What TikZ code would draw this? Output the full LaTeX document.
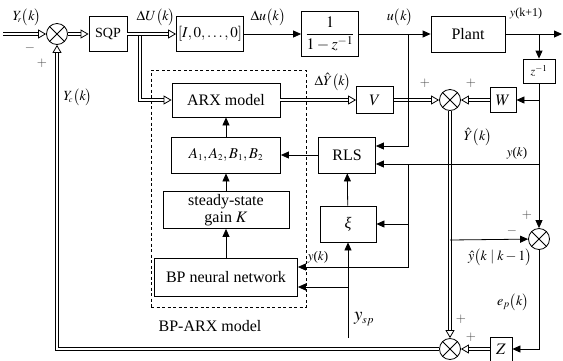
\documentclass[tikz,border=0pt]{standalone}
\usepackage{mathptmx}
\usepackage{fontspec}
\setmainfont{Liberation Serif}
\usetikzlibrary{arrows.meta,calc}
\tikzset{
  blk/.style={draw, line width=0.8pt, inner sep=1pt, font=\fontsize{16}{18}\selectfont, align=center},
  sumc/.style={draw, circle, line width=0.8pt, minimum size=21pt, inner sep=0pt},
  dbl/.style={draw=white, line width=1.5pt,
    preaction={draw=black, line width=3.7pt, -, shorten >=7.5pt},
    -{Triangle[open,color=black,fill=white,length=8pt,width=9pt,line width=0.8pt]}},
  sarr/.style={line width=0.8pt, -{Triangle[length=8pt,width=7pt]}},
  sline/.style={line width=0.8pt},
  lbl/.style={inner sep=1pt, font=\fontsize{14}{16}\selectfont},
  sgn/.style={inner sep=0pt, font=\fontsize{13}{15}\selectfont, text=black!70},
}
\begin{document}
\begin{tikzpicture}[x=1pt,y=-1pt]
\useasboundingbox (0,0) rectangle (563,360);
% dashed BP-ARX frame
\node[draw, line width=0.8pt, dash pattern=on 3pt off 2.5pt, minimum width=155pt, minimum height=237pt, inner sep=0pt] (frame) at (228.5,188.5) {};
% blocks
\node[blk, minimum width=38pt, minimum height=35pt, font=\fontsize{14}{16}\selectfont] (sqp) at (108,34) {SQP};
\node[blk, minimum width=67pt, minimum height=35pt, font=\fontsize{15}{17}\selectfont] (ibox) at (210,34) {$[I,0,\ldots,0]$};
\node[blk, minimum width=57pt, minimum height=45pt] (gbox) at (330,34) {$\displaystyle\frac{1}{1-z^{-1}}$};
\node[blk, minimum width=74pt, minimum height=36pt] (plant) at (468,34) {Plant};
\node[blk, minimum width=32pt, minimum height=24pt, font=\fontsize{12}{14}\selectfont] (zinv) at (539,71) {$z^{-1}$};
\node[blk, minimum width=108pt, minimum height=34pt] (arx) at (226,100) {ARX model};
\node[blk, minimum width=37pt, minimum height=27pt] (vbox) at (375,100) {$V$};
\node[blk, minimum width=26pt, minimum height=25pt] (wbox) at (503,100) {$W$};
\node[blk, minimum width=109pt, minimum height=36pt, font=\fontsize{15}{17}\selectfont] (abox) at (226,155) {$A_{\scriptscriptstyle 1}{,}\,A_{\scriptscriptstyle 2}{,}\,B_{\scriptscriptstyle 1}{,}\,B_{\scriptscriptstyle 2}$};
\node[blk, minimum width=57pt, minimum height=36pt] (rls) at (347,155) {RLS};
\node[blk, minimum width=126pt, minimum height=37pt, font=\fontsize{16}{17}\selectfont] (kbox) at (226,210) {steady-state\\gain $K$};
\node[blk, minimum width=56pt, minimum height=36pt] (xi) at (348,224) {\itshape ξ};
\node[blk, minimum width=143pt, minimum height=38pt] (bp) at (226,277) {BP neural network};
\node[blk, minimum width=22pt, minimum height=24pt] (zbox) at (501,349) {$Z$};
% summing junctions
\node[sumc] (s1) at (57,34) {};
\node[sumc] (s2) at (450,100) {};
\node[sumc] (s3) at (539,239) {};
\node[sumc] (s4) at (450,349) {};
\foreach \s in {s1,s2,s3,s4} {
  \draw[sline] (\s.north west) -- (\s.south east) (\s.north east) -- (\s.south west);
}
% coordinates
\coordinate (in) at (3,34);
\coordinate (br1) at (140,34);
\coordinate (out) at (562,34);
\coordinate (br2) at (539,34);
\coordinate (br3) at (539,100);
\coordinate (br4) at (450,240);
\coordinate (br5) at (408,34);
\coordinate (br6) at (539,164);
\coordinate (br7) at (408,164);
\coordinate (ysp) at (348,338);
\coordinate (br8) at (348,287);
% double connectors
\draw[dbl] (br1) |- (arx);
\draw[dbl] (in) -- (s1);
\draw[dbl] (s1) -- (sqp);
\draw[dbl] (sqp) -- (ibox);
\draw[dbl] (arx) -- (vbox);
\draw[dbl] (vbox) -- (s2);
\draw[dbl] (wbox) -- (s2);
\draw[dbl] (s2) -- (s4);
\draw[dbl] (zbox) -- (s4);
\draw[dbl] (s4) -| (s1);
% single connectors
\draw[sarr] (ibox) -- (gbox);
\draw[sarr] (gbox) -- (plant);
\draw[sarr] (plant) -- (out);
\draw[sarr] (br2) -- (zinv);
\draw[sarr] (zinv) -- (s3);
\draw[sarr] (br3) -- (wbox);
\draw[sarr] (br4) -- (s3);
\draw[sarr] (s3) |- (zbox);
\draw[sarr] (br5) |- ($(rls.east)+(0,-9)$);
\draw[sarr] (br6) -- ($(rls.east)+(0,9)$);
\draw[sarr] (br7) |- (xi);
\draw[sarr] (br7) |- ($(bp.east)+(0,-10)$);
\draw[sarr] (ysp) -- (xi);
\draw[sarr] (br8) -- ($(bp.east)+(0,10)$);
\draw[sarr] (xi) -- (rls);
\draw[sarr] (rls) -- (abox);
\draw[sarr] (abox) -- (arx);
\draw[sarr] (kbox) -- (abox);
\draw[sarr] (bp) -- (kbox);
% labels
\node[lbl] (lyr) at (27,17) {$Y_{\!\scriptscriptstyle r}\bigl(k\bigr)$};
\node[sgn] (m1) at (30,48) {$-$};
\node[sgn] (p1) at (42,63) {$+$};
\node[lbl] (ldU) at (156,17) {$\Delta U\bigl(k\bigr)$};
\node[lbl] (ldu) at (268,17) {$\Delta u\bigl(k\bigr)$};
\node[lbl] (lu) at (400,17) {$u\bigl(k\bigr)$};
\node[lbl, font=\fontsize{12}{14}\selectfont] (lyk1) at (526,14) {$y$(k+1)};
\node[lbl] (ldY) at (333,82) {$\Delta\hat{Y}\bigl(k\bigr)$};
\node[sgn] (p2) at (425,83) {$+$};
\node[sgn] (p3) at (471,83) {$+$};
\node[lbl] (lYh) at (478,137) {$\hat{Y}\bigl(k\bigr)$};
\node[lbl, font=\fontsize{13}{15}\selectfont] (lyk) at (517,153) {$y$($k$)};
\node[sgn] (p4) at (527,215) {$+$};
\node[sgn] (m2) at (512,231) {$-$};
\node[lbl] (lyh) at (500,257) {$\hat{y}\bigl(k\mid k-1\bigr)$};
\node[lbl, font=\fontsize{13}{15}\selectfont] (lyk2) at (318,257) {$y$($k$)};
\node[lbl, font=\fontsize{19}{21}\selectfont] (lysp) at (364,319) {$y_{\scriptscriptstyle sp}$};
\node[lbl] (lep) at (513,302) {$e_p\bigl(k\bigr)$};
\node[sgn] (p5) at (461,319) {$+$};
\node[sgn] (p6) at (471,337) {$+$};
\node[lbl] (lyc) at (78,97) {$Y_{\!\scriptscriptstyle c}\bigl(k\bigr)$};
\node[lbl, font=\fontsize{16}{18}\selectfont] (lbparx) at (210,326) {BP-ARX model};
\end{tikzpicture}
\end{document}
